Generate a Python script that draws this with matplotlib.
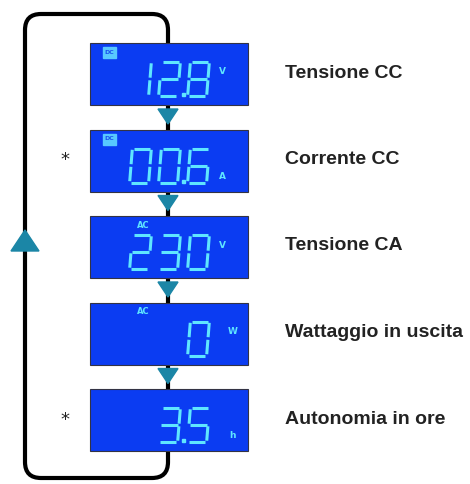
import matplotlib.pyplot as plt
from matplotlib.patches import FancyBboxPatch, Rectangle, Polygon

# Display cycle data
labels = ['Tensione CC', 'Corrente CC', 'Tensione CA', 'Wattaggio in uscita', 'Autonomia in ore']
readings = ['12.8', '00.6', '230', '0', '3.5']
units = ['V', 'A', 'V', 'W', 'h']
modes = ['DC', 'DC', 'AC', 'AC', '']
starred = [False, True, False, False, True]

# 7-segment map
SEGS = {'0': 'abcdef', '1': 'bc', '2': 'abged', '3': 'abgcd', '4': 'fgbc',
        '5': 'afgcd', '6': 'afgedc', '7': 'abc', '8': 'abcdefg', '9': 'abcdfg'}

lcd_blue = '#0b3cf2'
seg_col = '#5fe6ff'
teal = '#1b86a6'

fig = plt.figure(figsize=(4.7, 4.84), dpi=100)
ax = fig.add_axes([0, 0, 1, 1])
ax.set_xlim(0, 470)
ax.set_ylim(484, 0)
ax.axis('off')


def draw_digit(ch, x, y, w=19, h=34):
    # x,y = top-left of the digit cell, slight italic slant
    g = 1.3
    sl = 0.08
    pts = {
        'a': [(x + g, y), (x + w - g, y)],
        'b': [(x + w, y + g), (x + w, y + h / 2 - g)],
        'c': [(x + w, y + h / 2 + g), (x + w, y + h - g)],
        'd': [(x + g, y + h), (x + w - g, y + h)],
        'e': [(x, y + h / 2 + g), (x, y + h - g)],
        'f': [(x, y + g), (x, y + h / 2 - g)],
        'g': [(x + g, y + h / 2), (x + w - g, y + h / 2)],
    }
    for s in SEGS[ch]:
        (x0, y0), (x1, y1) = pts[s]
        x0 -= sl * (y0 - y - h / 2)
        x1 -= sl * (y1 - y - h / 2)
        ax.plot([x0, x1], [y0, y1], color=seg_col, lw=2.2, solid_capstyle='butt', zorder=5)


# outer loop
loop = FancyBboxPatch((25, 14), 143, 464, boxstyle='round,pad=0,rounding_size=16',
                      fill=False, ec='black', lw=3.0, zorder=1)
ax.add_patch(loop)
ax.add_patch(Polygon([(11, 251), (39, 251), (25, 230)], closed=True, color=teal, zorder=3))

pitch = 29
right = 208
for i, lab in enumerate(labels):
    top = 43 + i * 86.5
    ax.add_patch(Rectangle((90, top), 158, 62, fc=lcd_blue, ec='#333344', lw=0.8, zorder=2))

    # digits, right aligned
    digits = readings[i].replace('.', '')
    n = len(digits)
    for k, ch in enumerate(digits):
        x = right - 19 - (n - 1 - k) * pitch
        draw_digit(ch, x, top + 19)
    if '.' in readings[i]:
        pos = readings[i].index('.')
        x = right - 19 - (n - pos) * pitch + 22
        ax.add_patch(Rectangle((x, top + 50), 3, 3, color=seg_col, zorder=5))

    # unit
    uy = top + 47 if units[i] in ('A', 'h') else top + 29
    ux = 222 if units[i] in ('V', 'A') else 233
    ax.text(ux, uy, units[i], color=seg_col, fontsize=6.5, fontweight='bold',
            ha='center', va='center', family='DejaVu Sans', zorder=5)

    # mode indicator
    if modes[i] == 'DC':
        ax.add_patch(Rectangle((103, top + 4), 13, 11, color='#58c8ff', zorder=5))
        ax.text(109.5, top + 9.5, 'DC', color='#1a50f0', fontsize=4.5, fontweight='bold',
                ha='center', va='center', zorder=6)
    elif modes[i] == 'AC':
        ax.text(143, top + 9, 'AC', color=seg_col, fontsize=6, fontweight='bold',
                ha='center', va='center', zorder=6)

    # down arrow
    if i < len(labels) - 1:
        ax.add_patch(Polygon([(158, top + 66), (178, top + 66), (168, top + 81)],
                             closed=True, color=teal, zorder=3))

    if starred[i]:
        ax.text(65, top + 31, '*', fontsize=13, ha='center', va='center', color='#222222')

    ax.text(285, top + 30, lab, fontsize=14, fontweight='bold', ha='left', va='center',
            color='#222222', family='Liberation Sans')

fig.savefig('out.png', dpi=100)
